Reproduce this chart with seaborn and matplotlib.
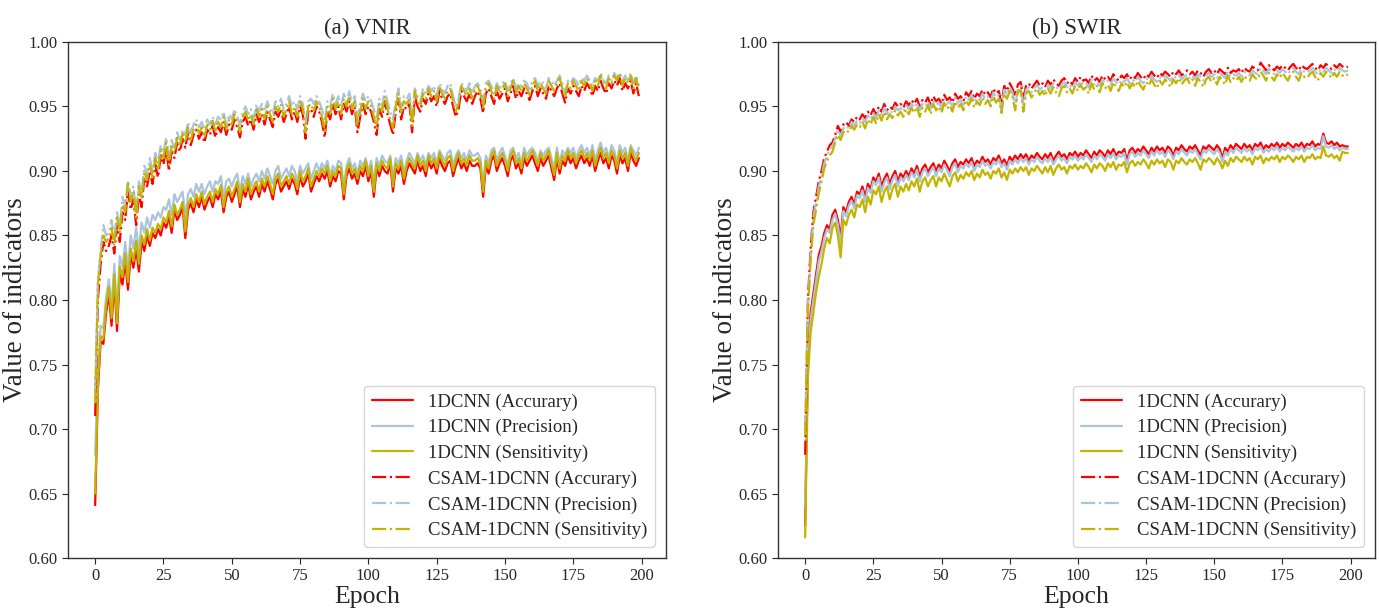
import numpy as np
import pandas as pd
import matplotlib
matplotlib.use("Agg")
import matplotlib.pyplot as plt
import seaborn as sns

# values, in thousandths
epochs = list(range(200))

# ---- (a) VNIR ----
vnir_cnn_acc = [
    641, 730, 768, 766, 790, 805, 780, 815, 776, 820, 812, 830, 808, 835, 825, 840, 822, 845, 838, 850,
    842, 852, 848, 855, 850, 860, 856, 865, 852, 870, 862, 866, 872, 848, 870, 875, 868, 878, 872, 880,
    870, 876, 880, 872, 882, 878, 885, 868, 880, 884, 876, 882, 888, 872, 886, 880, 890, 878, 884, 888,
    880, 890, 884, 892, 886, 878, 890, 894, 884, 888, 892, 886, 894, 890, 882, 896, 888, 892, 898, 884,
    890, 896, 892, 898, 894, 900, 888, 896, 892, 900, 898, 878, 896, 902, 894, 898, 890, 900, 896, 904,
    892, 900, 880, 902, 896, 904, 900, 898, 906, 884, 902, 898, 904, 890, 900, 906, 902, 898, 908, 900,
    904, 896, 908, 902, 906, 898, 910, 904, 900, 906, 908, 896, 904, 910, 902, 906, 900, 908, 904, 904,
    906, 902, 880, 904, 898, 908, 912, 900, 906, 910, 904, 896, 908, 912, 902, 906, 898, 910, 904, 908,
    912, 906, 900, 910, 904, 908, 912, 902, 893, 910, 898, 908, 904, 912, 906, 910, 902, 908, 912, 906,
    910, 904, 912, 900, 908, 914, 906, 910, 902, 912, 908, 898, 912, 906, 910, 900, 914, 908, 904, 910]
vnir_cnn_prec = [
    680, 745, 780, 778, 802, 816, 795, 828, 790, 834, 826, 845, 824, 850, 840, 856, 838, 860, 852, 864,
    856, 866, 862, 868, 864, 872, 870, 878, 866, 882, 876, 880, 884, 864, 882, 886, 880, 890, 884, 890,
    882, 888, 892, 884, 892, 890, 896, 880, 892, 894, 888, 894, 898, 884, 896, 890, 898, 888, 894, 898,
    892, 900, 894, 902, 896, 890, 900, 904, 894, 898, 902, 896, 904, 900, 892, 904, 898, 902, 906, 894,
    900, 906, 900, 906, 902, 908, 896, 904, 900, 908, 906, 888, 904, 910, 902, 906, 898, 908, 904, 910,
    900, 908, 890, 910, 904, 912, 908, 906, 912, 894, 910, 906, 912, 898, 908, 914, 910, 906, 914, 908,
    912, 904, 914, 910, 914, 906, 916, 912, 908, 914, 916, 904, 912, 916, 910, 914, 908, 916, 912, 912,
    914, 910, 888, 912, 906, 916, 918, 908, 914, 918, 912, 904, 916, 918, 910, 914, 906, 918, 912, 916,
    918, 914, 908, 916, 912, 916, 918, 910, 902, 918, 906, 916, 912, 918, 914, 918, 910, 916, 920, 914,
    918, 912, 920, 908, 916, 922, 914, 918, 910, 920, 916, 906, 920, 914, 918, 908, 920, 916, 912, 918]
vnir_cnn_sens = [
    650, 735, 772, 770, 796, 810, 786, 820, 782, 826, 818, 836, 814, 840, 830, 846, 828, 850, 843, 855,
    846, 856, 852, 859, 855, 864, 860, 869, 857, 874, 866, 870, 876, 853, 874, 879, 872, 882, 876, 884,
    874, 880, 884, 876, 886, 882, 889, 872, 884, 888, 880, 886, 892, 876, 890, 884, 894, 882, 888, 892,
    884, 894, 888, 896, 890, 882, 894, 898, 888, 892, 896, 890, 898, 894, 886, 900, 892, 896, 902, 888,
    894, 900, 896, 902, 898, 904, 892, 900, 896, 904, 902, 882, 900, 906, 898, 902, 894, 904, 900, 908,
    896, 904, 884, 906, 900, 908, 904, 902, 910, 888, 906, 902, 908, 894, 904, 910, 906, 902, 912, 904,
    908, 900, 912, 906, 910, 902, 914, 908, 904, 910, 912, 900, 908, 914, 906, 910, 904, 912, 908, 908,
    910, 906, 884, 908, 902, 912, 916, 904, 910, 914, 908, 900, 912, 916, 906, 910, 902, 914, 908, 912,
    916, 910, 904, 914, 908, 912, 916, 906, 897, 914, 902, 912, 908, 916, 910, 914, 906, 912, 916, 910,
    914, 908, 916, 904, 912, 918, 910, 914, 906, 916, 912, 902, 916, 910, 914, 904, 918, 912, 908, 914]

vnir_csam_acc = [
    710, 800, 828, 845, 838, 842, 850, 836, 858, 845, 868, 862, 885, 870, 878, 858, 882, 872, 895, 888,
    900, 890, 905, 895, 912, 905, 918, 900, 915, 910, 922, 915, 925, 918, 930, 920, 928, 932, 925, 930,
    922, 932, 928, 935, 926, 934, 930, 938, 928, 936, 932, 940, 934, 926, 938, 942, 935, 940, 932, 944,
    938, 944, 936, 946, 940, 934, 946, 942, 948, 938, 944, 950, 940, 946, 938, 950, 944, 925, 946, 948,
    942, 950, 946, 938, 926, 946, 940, 952, 944, 950, 940, 952, 946, 954, 944, 950, 930, 942, 952, 944,
    950, 946, 938, 928, 948, 942, 954, 944, 936, 928, 946, 956, 940, 950, 948, 952, 930, 958, 950, 946,
    956, 952, 960, 954, 958, 950, 962, 956, 952, 958, 960, 950, 942, 948, 962, 958, 954, 960, 952, 958,
    962, 956, 945, 960, 964, 958, 952, 962, 956, 960, 964, 954, 960, 966, 956, 962, 958, 964, 960, 955,
    962, 966, 958, 964, 960, 956, 966, 962, 958, 964, 968, 960, 953, 964, 960, 966, 962, 958, 966, 962,
    968, 964, 958, 966, 962, 970, 964, 960, 968, 964, 970, 966, 972, 962, 968, 964, 970, 960, 968, 958]
vnir_csam_prec = [
    730, 815, 838, 858, 850, 852, 862, 848, 868, 856, 880, 872, 893, 880, 888, 868, 892, 882, 904, 898,
    910, 900, 914, 906, 920, 914, 926, 912, 924, 918, 930, 924, 932, 928, 938, 930, 936, 940, 934, 938,
    932, 940, 936, 942, 936, 942, 940, 946, 936, 944, 940, 948, 942, 936, 946, 950, 944, 948, 940, 952,
    946, 952, 946, 954, 948, 944, 954, 950, 956, 948, 952, 958, 950, 954, 948, 958, 952, 936, 954, 956,
    952, 958, 954, 948, 938, 954, 950, 960, 952, 958, 950, 960, 954, 962, 952, 958, 940, 952, 960, 954,
    958, 954, 948, 940, 956, 950, 962, 954, 946, 940, 954, 964, 948, 958, 956, 960, 942, 964, 958, 954,
    964, 960, 966, 962, 966, 958, 968, 964, 960, 966, 968, 958, 950, 956, 968, 966, 962, 968, 960, 966,
    968, 964, 954, 968, 970, 966, 960, 968, 964, 968, 970, 962, 968, 972, 964, 968, 966, 970, 968, 963,
    970, 972, 966, 970, 968, 964, 972, 970, 966, 970, 974, 968, 960, 970, 968, 972, 970, 966, 972, 970,
    974, 970, 966, 972, 970, 976, 970, 968, 974, 970, 976, 972, 976, 970, 974, 970, 976, 968, 974, 966]
vnir_csam_sens = [
    720, 812, 835, 850, 845, 848, 856, 842, 864, 852, 874, 868, 890, 876, 884, 864, 888, 878, 900, 893,
    905, 895, 910, 900, 916, 910, 922, 905, 919, 914, 926, 919, 929, 922, 934, 924, 932, 936, 929, 934,
    926, 936, 932, 939, 930, 938, 934, 942, 932, 940, 936, 944, 938, 930, 942, 946, 939, 944, 936, 948,
    942, 948, 940, 950, 944, 938, 950, 946, 952, 942, 948, 954, 944, 950, 942, 954, 948, 930, 950, 952,
    946, 954, 950, 942, 931, 950, 944, 956, 948, 954, 944, 956, 950, 958, 948, 954, 935, 946, 956, 948,
    954, 950, 942, 933, 952, 946, 958, 948, 940, 933, 950, 960, 944, 954, 952, 956, 935, 962, 954, 950,
    960, 956, 964, 958, 962, 954, 966, 960, 956, 962, 964, 954, 946, 952, 966, 962, 958, 964, 956, 962,
    966, 960, 949, 964, 968, 962, 956, 966, 960, 964, 968, 958, 964, 970, 960, 966, 962, 968, 964, 959,
    966, 970, 962, 968, 964, 960, 970, 966, 962, 968, 972, 964, 957, 968, 964, 970, 966, 962, 970, 966,
    972, 968, 962, 970, 966, 974, 968, 964, 972, 968, 974, 970, 976, 966, 972, 968, 974, 964, 972, 962]

# ---- (b) SWIR ----
swir_cnn_acc = [
    625, 760, 790, 805, 820, 835, 842, 852, 858, 855, 866, 870, 862, 848, 872, 868, 876, 880, 874, 884,
    882, 888, 880, 890, 886, 895, 892, 898, 888, 894, 898, 890, 896, 900, 892, 898, 895, 900, 896, 902,
    898, 904, 896, 902, 905, 899, 903, 906, 900, 905, 902, 908, 904, 900, 906, 909, 903, 907, 905, 909,
    906, 910, 904, 908, 906, 911, 907, 909, 905, 910, 908, 912, 906, 909, 904, 911, 908, 912, 909, 913,
    910, 913, 908, 912, 910, 914, 911, 909, 913, 910, 914, 908, 912, 915, 911, 913, 909, 914, 912, 915,
    911, 914, 912, 916, 913, 910, 915, 912, 916, 914, 911, 916, 913, 917, 912, 915, 914, 917, 908, 916,
    918, 914, 917, 915, 919, 916, 913, 918, 915, 919, 916, 918, 914, 919, 917, 912, 918, 916, 920, 917,
    915, 919, 917, 920, 916, 912, 919, 917, 920, 918, 916, 920, 917, 910, 918, 915, 920, 917, 921, 919,
    917, 921, 918, 920, 916, 921, 919, 922, 917, 920, 918, 921, 919, 922, 918, 921, 919, 922, 920, 918,
    921, 919, 922, 918, 921, 920, 923, 919, 921, 920, 929, 922, 921, 923, 920, 922, 919, 920, 919, 919]
swir_cnn_prec = [
    640, 750, 785, 800, 815, 830, 838, 848, 855, 852, 862, 867, 858, 842, 869, 865, 873, 877, 871, 881,
    879, 885, 876, 887, 883, 892, 889, 895, 884, 891, 895, 886, 893, 897, 888, 895, 892, 897, 893, 899,
    895, 901, 892, 899, 902, 896, 900, 903, 896, 902, 899, 905, 901, 896, 903, 906, 899, 904, 902, 906,
    903, 907, 900, 905, 903, 908, 904, 906, 902, 907, 905, 909, 903, 906, 901, 908, 905, 909, 906, 910,
    907, 910, 905, 909, 907, 911, 908, 906, 910, 907, 911, 905, 909, 912, 908, 910, 906, 911, 909, 912,
    908, 911, 909, 913, 910, 907, 912, 909, 913, 911, 908, 913, 910, 914, 909, 912, 911, 914, 905, 913,
    915, 911, 914, 912, 916, 913, 910, 915, 912, 916, 913, 915, 911, 916, 914, 909, 915, 913, 917, 914,
    912, 916, 914, 917, 913, 909, 916, 914, 917, 915, 913, 917, 914, 907, 915, 912, 917, 914, 918, 916,
    914, 918, 915, 917, 913, 918, 916, 919, 914, 917, 915, 918, 916, 919, 915, 918, 916, 919, 917, 915,
    918, 916, 919, 915, 918, 917, 920, 916, 918, 917, 927, 919, 918, 920, 917, 919, 916, 918, 917, 917]
swir_cnn_sens = [
    616, 740, 775, 790, 806, 818, 828, 840, 848, 844, 856, 860, 850, 833, 862, 858, 866, 870, 864, 874,
    872, 878, 868, 880, 874, 885, 882, 888, 876, 884, 888, 878, 886, 890, 880, 888, 884, 890, 885, 892,
    888, 894, 884, 892, 895, 888, 893, 896, 888, 895, 892, 898, 893, 888, 896, 899, 892, 897, 894, 899,
    896, 900, 893, 898, 895, 901, 897, 899, 894, 900, 898, 902, 895, 899, 893, 901, 898, 902, 899, 903,
    900, 903, 897, 902, 900, 904, 901, 898, 903, 899, 904, 897, 902, 905, 901, 903, 898, 904, 902, 905,
    901, 904, 902, 906, 903, 899, 905, 902, 906, 904, 900, 906, 903, 907, 901, 905, 904, 907, 899, 906,
    908, 904, 907, 905, 909, 906, 902, 908, 905, 909, 906, 908, 903, 909, 907, 901, 908, 906, 910, 907,
    905, 909, 907, 910, 906, 901, 909, 907, 910, 908, 905, 910, 907, 902, 908, 904, 910, 907, 911, 909,
    907, 911, 908, 910, 905, 911, 909, 912, 906, 910, 908, 911, 909, 912, 907, 911, 909, 912, 910, 907,
    911, 909, 912, 907, 911, 910, 913, 909, 911, 910, 919, 912, 911, 913, 910, 912, 908, 915, 914, 914]

swir_csam_acc = [
    680, 800, 840, 868, 880, 892, 900, 910, 915, 920, 922, 928, 935, 930, 936, 938, 935, 940, 938, 942,
    940, 944, 941, 946, 943, 948, 944, 950, 946, 952, 947, 950, 948, 953, 950, 952, 949, 954, 951, 955,
    952, 956, 950, 955, 953, 957, 951, 958, 954, 956, 952, 959, 955, 957, 953, 960, 956, 958, 954, 961,
    958, 962, 956, 960, 958, 963, 959, 961, 957, 964, 960, 962, 952, 966, 962, 968, 964, 958, 967, 969,
    956, 966, 968, 964, 967, 970, 966, 968, 965, 970, 967, 971, 968, 966, 970, 972, 968, 970, 967, 972,
    969, 973, 970, 971, 968, 974, 970, 972, 969, 974, 971, 973, 970, 975, 972, 970, 974, 972, 975, 971,
    974, 972, 976, 973, 971, 975, 973, 977, 974, 972, 976, 974, 977, 975, 973, 977, 975, 978, 974, 976,
    978, 975, 977, 974, 978, 976, 973, 977, 979, 976, 978, 975, 979, 977, 975, 980, 976, 978, 977, 979,
    976, 980, 978, 977, 981, 979, 978, 984, 981, 978, 982, 980, 978, 981, 979, 982, 980, 978, 981, 983,
    980, 978, 982, 980, 979, 981, 983, 980, 978, 982, 980, 983, 981, 979, 982, 980, 983, 981, 980, 981]
swir_csam_prec = [
    700, 795, 835, 864, 876, 888, 896, 906, 912, 917, 919, 925, 932, 927, 933, 935, 933, 938, 935, 939,
    937, 941, 938, 943, 940, 945, 941, 947, 943, 949, 944, 947, 945, 950, 947, 949, 946, 951, 948, 952,
    949, 953, 947, 952, 950, 954, 948, 955, 951, 953, 949, 956, 952, 954, 950, 957, 953, 955, 951, 958,
    955, 959, 953, 957, 955, 960, 956, 958, 954, 961, 957, 959, 947, 963, 959, 965, 961, 950, 964, 966,
    950, 963, 965, 961, 964, 967, 963, 965, 962, 967, 964, 968, 965, 963, 967, 969, 965, 967, 964, 969,
    966, 970, 967, 968, 965, 971, 967, 969, 966, 971, 968, 970, 967, 972, 969, 967, 971, 969, 972, 968,
    971, 969, 973, 970, 968, 972, 970, 974, 971, 969, 973, 971, 974, 972, 970, 974, 972, 975, 971, 973,
    975, 972, 974, 971, 975, 973, 970, 974, 976, 973, 975, 972, 976, 974, 972, 977, 973, 975, 974, 976,
    973, 977, 975, 974, 978, 976, 975, 980, 978, 975, 979, 977, 975, 978, 976, 979, 977, 975, 978, 980,
    977, 975, 979, 977, 976, 978, 980, 977, 975, 979, 977, 980, 978, 976, 979, 977, 980, 978, 977, 978]
swir_csam_sens = [
    695, 790, 830, 858, 870, 883, 892, 902, 908, 912, 915, 922, 928, 924, 930, 932, 930, 935, 932, 936,
    934, 938, 933, 940, 936, 942, 937, 944, 939, 946, 940, 944, 941, 947, 943, 946, 942, 948, 944, 949,
    945, 950, 942, 949, 946, 951, 944, 952, 947, 950, 945, 953, 948, 951, 946, 954, 949, 952, 947, 955,
    951, 956, 949, 954, 951, 957, 952, 955, 950, 958, 953, 956, 945, 960, 956, 962, 958, 947, 961, 963,
    946, 960, 962, 957, 961, 964, 959, 962, 958, 964, 960, 965, 961, 958, 964, 966, 961, 964, 960, 966,
    962, 967, 963, 965, 960, 968, 963, 966, 961, 968, 964, 967, 962, 969, 965, 962, 968, 965, 969, 964,
    968, 965, 970, 966, 963, 969, 966, 971, 967, 964, 970, 967, 971, 968, 965, 971, 968, 972, 967, 970,
    972, 968, 971, 966, 972, 969, 965, 971, 973, 969, 972, 967, 973, 970, 967, 974, 969, 972, 970, 973,
    969, 974, 971, 970, 975, 972, 971, 977, 974, 970, 976, 973, 970, 975, 972, 976, 973, 970, 975, 977,
    973, 970, 976, 973, 972, 975, 977, 973, 970, 976, 973, 977, 975, 972, 976, 973, 977, 974, 973, 975]

panel_titles = ["(a) VNIR", "(b) SWIR"]
labels = ["1DCNN (Accurary)", "1DCNN (Precision)", "1DCNN (Sensitivity)",
          "CSAM-1DCNN (Accurary)", "CSAM-1DCNN (Precision)", "CSAM-1DCNN (Sensitivity)"]
colors = ["#ff0000", "#a9c4dc", "#c2b400"] * 2
styles = ["-"] * 3 + ["-."] * 3

panels = [
    [vnir_cnn_acc, vnir_cnn_prec, vnir_cnn_sens, vnir_csam_acc, vnir_csam_prec, vnir_csam_sens],
    [swir_cnn_acc, swir_cnn_prec, swir_cnn_sens, swir_csam_acc, swir_csam_prec, swir_csam_sens],
]

sns.set_style("ticks")
plt.rcParams["font.family"] = ["Liberation Serif", "DejaVu Serif"]

fig = plt.figure(figsize=(13.79, 6.13), dpi=100)
ax_pos = [[0.0493, 0.0897, 0.4337, 0.8418], [0.5642, 0.0897, 0.4329, 0.8418]]

for k in range(2):
    ax = fig.add_axes(ax_pos[k])
    for vals, lab, col, ls in zip(panels[k], labels, colors, styles):
        y = np.array(vals) / 1000.0
        sns.lineplot(x=epochs, y=y, color=col, linestyle=ls, linewidth=1.6, label=lab, ax=ax)
    ax.set_ylim(0.60, 1.00)
    ax.set_yticks(np.arange(0.60, 1.001, 0.05))
    ax.set_yticklabels(["%.2f" % v for v in np.arange(0.60, 1.001, 0.05)])
    ax.set_xticks([0, 25, 50, 75, 100, 125, 150, 175, 200])
    ax.tick_params(labelsize=12, length=4, width=0.8)
    ax.set_xlabel("Epoch", fontsize=18.5, labelpad=1)
    ax.set_ylabel("Value of indicators", fontsize=19.5, labelpad=0)
    ax.set_title(panel_titles[k], fontsize=16.5)
    for s in ax.spines.values():
        s.set_color("#333333")
        s.set_linewidth(1.0)
    ax.legend(loc="lower right", fontsize=13.5, handlelength=2.2, labelspacing=0.45,
              borderaxespad=0.6)

plt.savefig("out.png", dpi=100)
